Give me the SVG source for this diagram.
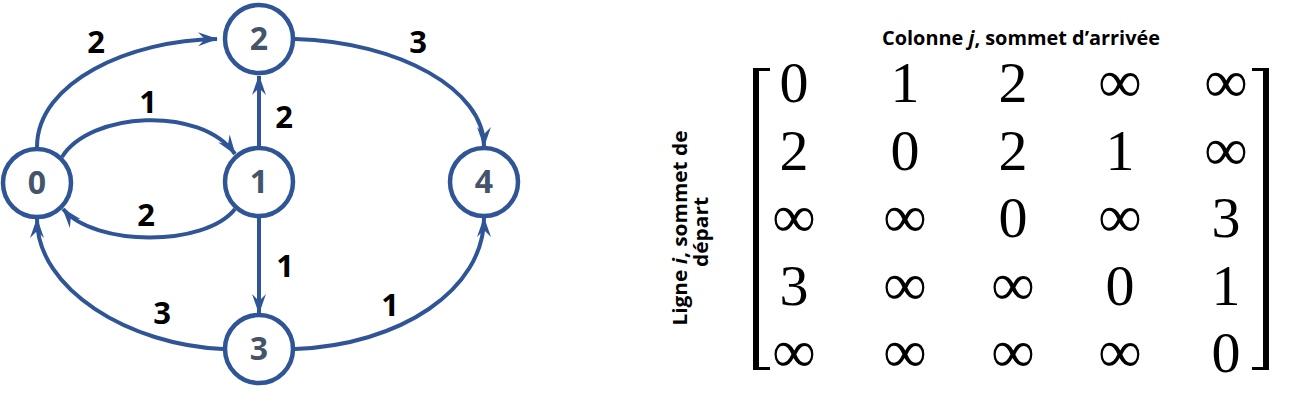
<svg xmlns="http://www.w3.org/2000/svg" width="1291" height="400" viewBox="0 0 1291 400">
<style>
.edge{fill:none;stroke:#2F5597;stroke-width:4;marker-end:url(#arr)}
.node circle{fill:#fff;stroke:#2F5597;stroke-width:4.5}
.node text{font-family:"Open Sans",Lato,sans-serif;font-weight:700;font-size:32px;fill:#44546A;text-anchor:middle}
.wt{font-family:"Open Sans",Lato,sans-serif;font-weight:700;font-size:31px;fill:#000;text-anchor:middle}
.m{font-family:"Liberation Serif",serif;font-size:58px;fill:#000;text-anchor:middle}
.inf{font-size:61px}
.lab{font-family:"Open Sans",Lato,sans-serif;font-weight:700;font-size:19.5px;fill:#000;text-anchor:middle}
</style>
<defs>
<marker id="arr" viewBox="0 0 20 14" refX="19" refY="7" markerWidth="20" markerHeight="14" orient="auto" markerUnits="userSpaceOnUse">
<path d="M0,0 L20,7 L0,14 L7,7 Z" fill="#2F5597"/>
</marker>
</defs>
<rect width="1291" height="400" fill="#fff"/>
<g id="connectors">
<path class="edge" d="M37,147 C37,82 130,40 217,39"/>
<path class="edge" d="M295,39 C400,42 484,90 484,146"/>
<path class="edge" d="M62,157 C90,112 200,105 235,154"/>
<path class="edge" d="M235,209 C205,247 95,247 63,209"/>
<path class="edge" d="M259,146 L259,76"/>
<path class="edge" d="M259,218 L259,313"/>
<path class="edge" d="M223,349 C130,345 37,290 37,219"/>
<path class="edge" d="M295,349 C400,345 484,290 484,218"/>
</g>
<g id="weights">
<text class="wt" x="96" y="53">2</text>
<text class="wt" x="148" y="113">1</text>
<text class="wt" x="284" y="128">2</text>
<text class="wt" x="418" y="53">3</text>
<text class="wt" x="146" y="226">2</text>
<text class="wt" x="285" y="277">1</text>
<text class="wt" x="162" y="324">3</text>
<text class="wt" x="390" y="316">1</text>
</g>
<g id="node0" class="node"><circle cx="37" cy="183" r="34"/><text x="37" y="194">0</text></g>
<g id="node1" class="node"><circle cx="259" cy="182" r="34"/><text x="259" y="193">1</text></g>
<g id="node2" class="node"><circle cx="259" cy="39" r="34"/><text x="259" y="50">2</text></g>
<g id="node3" class="node"><circle cx="259" cy="349" r="34"/><text x="259" y="360">3</text></g>
<g id="node4" class="node"><circle cx="484" cy="182" r="34"/><text x="484" y="193">4</text></g>
<g id="matrix">
<text class="lab" x="1021" y="45" textLength="278" lengthAdjust="spacingAndGlyphs">Colonne <tspan font-style="italic">j</tspan>, sommet d’arrivée</text>
<text class="lab" transform="translate(687,228) rotate(-90)" textLength="195" lengthAdjust="spacingAndGlyphs">Ligne <tspan font-style="italic">i</tspan>, sommet de</text>
<text class="lab" transform="translate(708,232) rotate(-90)" textLength="70" lengthAdjust="spacingAndGlyphs">départ</text>
<path d="M753,68 H770 V71 H759 V367 H770 V370 H753 Z" fill="#000"/>
<path d="M1269,68 H1252 V71 H1263 V367 H1252 V370 H1269 Z" fill="#000"/>
<g class="m">
<text x="794" y="102">0</text><text x="905" y="102">1</text><text x="1013" y="102">2</text><text class="inf" x="1120" y="102">∞</text><text class="inf" x="1226" y="102">∞</text>
<text x="794" y="170">2</text><text x="905" y="170">0</text><text x="1013" y="170">2</text><text x="1120" y="170">1</text><text class="inf" x="1226" y="170">∞</text>
<text class="inf" x="794" y="237">∞</text><text class="inf" x="905" y="237">∞</text><text x="1013" y="237">0</text><text class="inf" x="1120" y="237">∞</text><text x="1226" y="237">3</text>
<text x="794" y="305">3</text><text class="inf" x="905" y="305">∞</text><text class="inf" x="1013" y="305">∞</text><text x="1120" y="305">0</text><text x="1226" y="305">1</text>
<text class="inf" x="794" y="372">∞</text><text class="inf" x="905" y="372">∞</text><text class="inf" x="1013" y="372">∞</text><text class="inf" x="1120" y="372">∞</text><text x="1226" y="372">0</text>
</g>
</g>
</svg>
